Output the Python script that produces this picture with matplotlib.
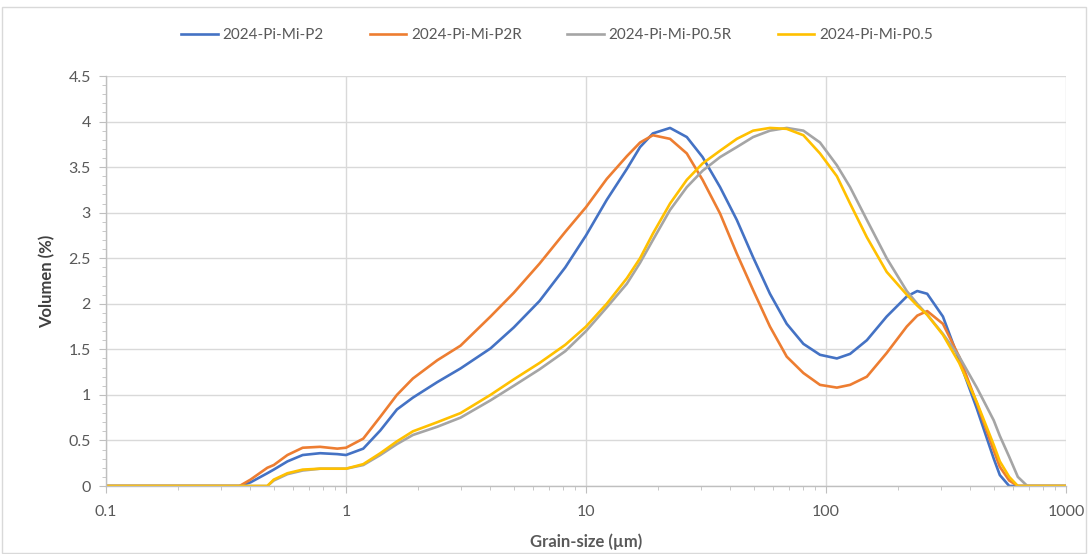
import matplotlib
matplotlib.use("Agg")
import matplotlib.pyplot as plt
from matplotlib.ticker import FixedLocator, NullFormatter, MultipleLocator
from matplotlib.patches import Rectangle

# Grain size classes (µm)
size_um = [0.1, 0.3, 0.36, 0.4, 0.47, 0.5, 0.57, 0.66, 0.78, 0.92, 1.0, 1.18, 1.39,
           1.63, 1.9, 2.4, 3.0, 4.0, 5.0, 6.4, 8.2, 10, 12.2, 14.8, 16.8, 19, 22.4,
           26.3, 30.6, 36.2, 42.5, 49.7, 58.4, 68.6, 80.5, 94.4, 111, 126, 148, 179,
           217, 240, 264, 307, 359, 425, 500, 530, 580, 630, 690, 800, 1000]

p2 = [0, 0, 0, 0.04, 0.14, 0.18, 0.27, 0.34, 0.36, 0.35, 0.34, 0.41, 0.61,
      0.84, 0.97, 1.14, 1.29, 1.51, 1.74, 2.03, 2.40, 2.75, 3.14, 3.48, 3.72, 3.87, 3.93,
      3.83, 3.61, 3.28, 2.92, 2.51, 2.11, 1.78, 1.56, 1.44, 1.40, 1.45, 1.60, 1.86,
      2.08, 2.14, 2.11, 1.86, 1.38, 0.85, 0.30, 0.12, 0, 0, 0, 0, 0]

p2r = [0, 0, 0, 0.07, 0.20, 0.23, 0.34, 0.42, 0.43, 0.41, 0.42, 0.52, 0.76,
       1.00, 1.18, 1.38, 1.54, 1.86, 2.12, 2.44, 2.79, 3.06, 3.37, 3.62, 3.77, 3.85, 3.81,
       3.65, 3.36, 2.99, 2.55, 2.15, 1.75, 1.42, 1.24, 1.11, 1.08, 1.11, 1.20, 1.46,
       1.75, 1.87, 1.92, 1.78, 1.42, 0.91, 0.39, 0.21, 0.06, 0, 0, 0, 0]

p05r = [0, 0, 0, 0, 0, 0.06, 0.13, 0.17, 0.19, 0.19, 0.19, 0.23, 0.34,
        0.46, 0.56, 0.65, 0.75, 0.94, 1.10, 1.28, 1.48, 1.70, 1.96, 2.22, 2.45, 2.70, 3.03,
        3.28, 3.46, 3.61, 3.72, 3.83, 3.90, 3.93, 3.90, 3.77, 3.52, 3.28, 2.92, 2.50,
        2.14, 2.00, 1.88, 1.67, 1.42, 1.08, 0.72, 0.55, 0.32, 0.10, 0, 0, 0]

p05 = [0, 0, 0, 0, 0, 0.07, 0.14, 0.18, 0.19, 0.19, 0.19, 0.24, 0.36,
       0.49, 0.60, 0.70, 0.80, 1.00, 1.17, 1.35, 1.55, 1.75, 2.00, 2.28, 2.50, 2.77, 3.10,
       3.36, 3.54, 3.68, 3.81, 3.90, 3.93, 3.92, 3.85, 3.65, 3.40, 3.10, 2.73, 2.35,
       2.10, 1.98, 1.88, 1.66, 1.35, 0.92, 0.45, 0.27, 0.10, 0, 0, 0, 0]

series_names = ["2024-Pi-Mi-P2", "2024-Pi-Mi-P2R", "2024-Pi-Mi-P0.5R", "2024-Pi-Mi-P0.5"]
series_values = [p2, p2r, p05r, p05]
colors = ["#4472C4", "#ED7D31", "#A5A5A5", "#FFC000"]

x_ticks = [0.1, 1, 10, 100, 1000]
x_ticklabels = ["0.1", "1", "10", "100", "1000"]
y_ticks = [0, 0.5, 1, 1.5, 2, 2.5, 3, 3.5, 4, 4.5]
y_ticklabels = ["0", "0.5", "1", "1.5", "2", "2.5", "3", "3.5", "4", "4.5"]

plt.rcParams['font.family'] = ['Lato', 'DejaVu Sans']

fig = plt.figure(figsize=(10.89, 5.54), dpi=100)
ax = fig.add_axes([106/1089, 1-486/554, (1066-106)/1089, (486-76)/554])

for name, vals, c in zip(series_names, series_values, colors):
    ax.plot(size_um, vals, color=c, lw=1.9, label=name, solid_joinstyle='round')

ax.set_xscale('log')
ax.set_xlim(0.1, 1000)
ax.set_ylim(0, 4.5)
ax.set_xticks(x_ticks)
ax.set_xticklabels(x_ticklabels)
minors = [m * 10.0**e for e in range(-1, 3) for m in range(2, 10)]
ax.xaxis.set_minor_locator(FixedLocator(minors))
ax.xaxis.set_minor_formatter(NullFormatter())
ax.set_yticks(y_ticks)
ax.set_yticklabels(y_ticklabels)
ax.yaxis.set_minor_locator(MultipleLocator(0.1))

grid_c = "#D9D9D9"
ax.grid(True, which='major', color=grid_c, lw=1.0)
ax.set_axisbelow(True)
for s in ['top', 'right']:
    ax.spines[s].set_visible(False)
for s in ['left', 'bottom']:
    ax.spines[s].set_color("#BFBFBF")
    ax.spines[s].set_linewidth(1.0)

ax.tick_params(axis='both', which='major', length=5, color="#BFBFBF",
               labelsize=11.5, labelcolor="#595959", direction='out')
ax.tick_params(axis='both', which='minor', length=3, color="#BFBFBF", direction='out')
ax.tick_params(axis='x', pad=9)
ax.tick_params(axis='y', pad=6)

ax.set_ylabel("Volumen (%)", fontsize=12, fontweight='bold', color="#404040", labelpad=9)
ax.set_xlabel("Grain-size (µm)", fontsize=12, fontweight='bold', color="#595959", labelpad=10)

leg = fig.legend(loc='center', bbox_to_anchor=(557/1089, 1-35/554), ncol=4, frameon=False,
                 fontsize=11, handlelength=2.4, columnspacing=3.0, handletextpad=0.3)
for t in leg.get_texts():
    t.set_color("#595959")

fig.patches.append(Rectangle((2/1089, 1/554), 1084/1089, 546/554, transform=fig.transFigure,
                             fill=False, edgecolor="#D9D9D9", lw=1.0))

fig.savefig("out.png", dpi=100)
